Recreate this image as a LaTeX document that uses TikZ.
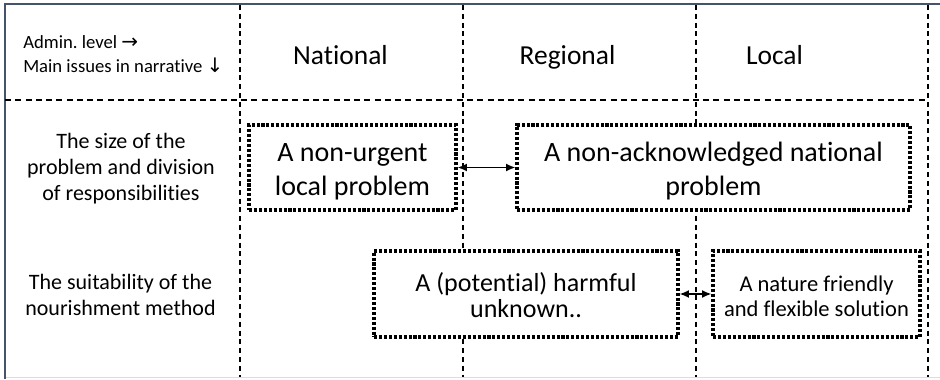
\documentclass[tikz,border=0pt]{standalone}
\usepackage{fontspec}
\setmainfont{Carlito}[Ligatures=NoCommon]
\newfontfamily\symfont{DejaVu Sans}
\usetikzlibrary{arrows.meta}
\newdimen\pxu \pxu=0.75pt
\newcommand\topstrut[1]{\rule{0pt}{#1\pxu}}
\newcommand\botstrut[1]{\rule[-#1\pxu]{0pt}{#1\pxu}}
\definecolor{frameblue}{HTML}{44546A}
\definecolor{framelight}{HTML}{D3DEEE}
\frenchspacing
\tikzset{
  gridh/.style={line width=1pt, dash pattern=on 4.5pt off 3.2pt},
  gridv/.style={line width=1pt, dash pattern=on 3.8pt off 2.8pt},
  dotbox/.style={draw, fill=white, line width=2.3pt, dash pattern=on 2.3pt off 1.4pt,
    rectangle, inner sep=0pt, align=center},
  plain/.style={inner sep=0pt, align=center},
  biarrow/.style={{Latex[length=7pt,width=6pt]}-{Latex[length=7pt,width=6pt]}, line width=1.3pt},
}
\begin{document}
\begin{tikzpicture}[x=0.75pt, y=-0.75pt]
\useasboundingbox (0,0) rectangle (940,379);
% frame
\draw[framelight, line width=1.2pt] (5,377.5) -- (940,377.5);
\draw[frameblue, line width=1.2pt] (4,4) -- (940,4);
\draw[frameblue, line width=1.8pt] (5,4) -- (5,379);
% grid
\draw[gridh] (5,100) -- (928,100);
\foreach \xx in {240,463,696,928} \draw[gridv] (\xx,5) -- (\xx,377);
% header
\node[plain, align=left, anchor=west, font=\fontsize{14pt}{18pt}\selectfont] (hdr) at (23,54.5)
  {\topstrut{16}Admin. level {\symfont\fontsize{15pt}{18pt}\selectfont →}\\
   Main issues in narrative {\symfont\fontsize{15pt}{18pt}\selectfont ↓}\botstrut{5}};
\node[plain, anchor=base, font=\fontsize{20.6pt}{24pt}\selectfont] (nat) at (340.5,64) {National};
\node[plain, anchor=base, font=\fontsize{20.6pt}{24pt}\selectfont] (reg) at (567.5,64) {Regional};
\node[plain, anchor=base, font=\fontsize{20.6pt}{24pt}\selectfont] (loc) at (774.5,64) {Local};
% row labels
\node[plain, font=\fontsize{16.5pt}{19.5pt}\selectfont] (row1) at (121,167.5)
  {\topstrut{18}The size of the\\problem and division\\of responsibilities\botstrut{5}};
\node[plain, font=\fontsize{16.5pt}{19.5pt}\selectfont] (row2) at (120.5,295.5)
  {\topstrut{18}The suitability of the\\nourishment method\botstrut{5}};
% boxes
\node[dotbox, minimum width=207\pxu, minimum height=85\pxu, font=\fontsize{21pt}{25.5pt}\selectfont] (b1) at (352.5,167.5)
  {\topstrut{27}A non-urgent\\local problem\botstrut{6}};
\node[dotbox, minimum width=393\pxu, minimum height=85\pxu, font=\fontsize{21pt}{25.5pt}\selectfont] (b2) at (713.5,167.5)
  {\topstrut{27}A non-acknowledged national\\problem\botstrut{6}};
\node[dotbox, minimum width=304\pxu, minimum height=86\pxu, font=\fontsize{19.5pt}{19.5pt}\selectfont] (b3) at (526,294)
  {\topstrut{26}A (potential) harmful\\unknown..\botstrut{6}};
\node[dotbox, minimum width=207\pxu, minimum height=86\pxu, font=\fontsize{16.9pt}{18.75pt}\selectfont] (b4) at (816.5,294)
  {\topstrut{23}A nature friendly\\and flexible solution\botstrut{4}};
% arrows
\draw[biarrow] (b1.east) -- (b2.west);
\draw[biarrow] (b3.east) -- (b4.west);
\end{tikzpicture}
\end{document}
